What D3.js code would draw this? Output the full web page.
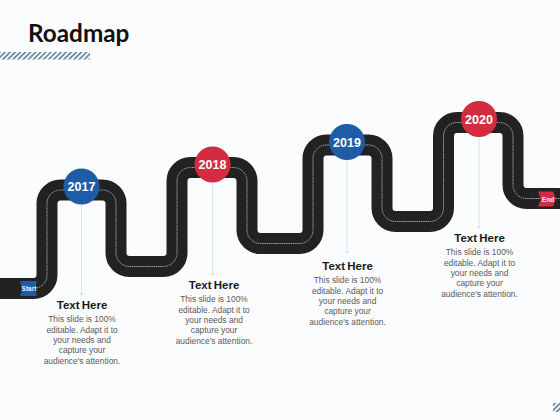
<!DOCTYPE html>
<html>
<head>
<meta charset="utf-8">
<script src="https://cdn.jsdelivr.net/npm/d3@7"></script>
<style>
html, body { margin:0; padding:0; background:#fbfcfe; overflow:hidden; }
text { font-family:"Liberation Sans", Arial, sans-serif; }
</style>
</head>
<body>
<div id="chart"></div>
<script>
var width = 560, height = 420;

// road bends
var roadX = [-5, 47, 47, 116, 116, 177, 177, 247, 247, 313, 313, 382, 382, 443.5, 443.5, 513, 513, 565];
var roadY = [288.5, 288.5, 190, 190, 266.5, 266.5, 167.5, 167.5, 243.5, 243.5, 145, 145, 221.5, 221.5, 122.5, 122.5, 198.5, 198.5];

var years = ["2017", "2018", "2019", "2020"];
var yearX = [81.5, 212.5, 347, 479];
var yearY = [186.5, 164.5, 142, 119];
var stemEnd = [294, 274, 252, 227];
var yearColors = ["#1f5ca8", "#d32b3f", "#1f5ca8", "#d32b3f"];

var textX = [82, 214, 347.5, 479.5];
var headingY = [309, 289, 270, 242];
var bodyLines = ["This slide is 100%", "editable. Adapt it to", "your needs and", "capture your", "audience's attention."];

var x = d3.scaleLinear().domain([0, 560]).range([0, width]);
var y = d3.scaleLinear().domain([0, 420]).range([0, height]);

var svg = d3.select("#chart")
    .append("svg")
    .attr("width", width)
    .attr("height", height);

svg.append("rect")
    .attr("width", width)
    .attr("height", height)
    .attr("fill", "#fbfcfe");

var defs = svg.append("defs");
var hatch = defs.append("pattern")
    .attr("id", "hatch")
    .attr("width", 3.6)
    .attr("height", 3.6)
    .attr("patternUnits", "userSpaceOnUse")
    .attr("patternTransform", "rotate(45)");
hatch.append("rect")
    .attr("width", 1.6)
    .attr("height", 3.6)
    .attr("fill", "#5f7f9c");

// title
svg.append("text")
    .attr("x", x(28))
    .attr("y", y(41.5))
    .attr("font-size", 24.3)
    .attr("font-weight", 700)
    .style("font-family", "Lato, sans-serif")
    .attr("fill", "#111")
    .text("Roadmap");

svg.append("rect")
    .attr("x", x(0))
    .attr("y", y(52))
    .attr("width", x(90))
    .attr("height", 7.5)
    .attr("fill", "url(#hatch)");

svg.append("rect")
    .attr("x", x(553))
    .attr("y", y(403))
    .attr("width", 7)
    .attr("height", 9)
    .attr("fill", "url(#hatch)");

// road with rounded bends
function roadPath(startX) {
  var bend = 13.5;
  var p = d3.path();
  p.moveTo(x(startX), y(roadY[0]));
  for (var i = 1; i < roadX.length - 1; i++) {
    p.arcTo(x(roadX[i]), y(roadY[i]), x(roadX[i + 1]), y(roadY[i + 1]), bend);
  }
  p.lineTo(x(roadX[roadX.length - 1]), y(roadY[roadY.length - 1]));
  return p.toString();
}

svg.append("path")
    .attr("d", roadPath(roadX[0]))
    .attr("fill", "none")
    .attr("stroke", "#222222")
    .attr("stroke-width", 21);

// the centre line only starts at the Start flag
svg.append("path")
    .attr("d", roadPath(30))
    .attr("fill", "none")
    .attr("stroke", "#d8d8d8")
    .attr("stroke-width", 0.7)
    .attr("stroke-dasharray", "1.5 0.7");

// start and end flags
var startFlag = svg.append("g").attr("transform", "translate(" + x(20) + "," + y(281) + ")");
startFlag.append("path")
    .attr("d", "M0,0 L17,0 L15,7.5 L17,15 L0,15 L2,7.5 Z")
    .attr("fill", "#1f5ca8");
startFlag.append("text")
    .attr("x", 9)
    .attr("y", 10)
    .attr("text-anchor", "middle")
    .attr("font-size", 6.5)
    .attr("font-weight", 700)
    .attr("fill", "#eef")
    .text("Start");

var endFlag = svg.append("g").attr("transform", "translate(" + x(538) + "," + y(191.5) + ")");
endFlag.append("path")
    .attr("d", "M0,0 L15,0 L18,7.5 L15,15 L0,15 L3,7.5 Z")
    .attr("fill", "#d32b3f");
endFlag.append("text")
    .attr("x", 10)
    .attr("y", 10)
    .attr("text-anchor", "middle")
    .attr("font-size", 6.5)
    .attr("font-weight", 700)
    .attr("fill", "#fee")
    .text("End");

// milestones
years.forEach(function(year, i) {
  var cx = x(yearX[i]), cy = y(yearY[i]);
  var tx = x(textX[i]);

  svg.append("line")
      .attr("x1", cx).attr("x2", cx)
      .attr("y1", cy).attr("y2", y(stemEnd[i]))
      .attr("stroke", "#dbe5ef")
      .attr("stroke-width", 1);

  svg.append("circle")
      .attr("cx", cx).attr("cy", y(stemEnd[i]))
      .attr("r", 1.6)
      .attr("fill", "#dbe5ef");

  svg.append("circle")
      .attr("cx", cx).attr("cy", cy)
      .attr("r", 18)
      .attr("fill", yearColors[i]);

  svg.append("text")
      .attr("x", cx).attr("y", cy + 4.5)
      .attr("text-anchor", "middle")
      .attr("font-size", 12.5)
      .attr("font-weight", 700)
      .attr("fill", "#fff")
      .text(year);

  svg.append("text")
      .attr("x", tx).attr("y", y(headingY[i]))
      .attr("text-anchor", "middle")
      .attr("font-size", 11.5)
      .attr("font-weight", 700)
      .attr("word-spacing", -1)
      .attr("fill", "#1a1a1a")
      .text("Text Here");

  bodyLines.forEach(function(line, j) {
    svg.append("text")
        .attr("x", tx).attr("y", y(headingY[i]) + 13.2 + j * 10.4)
        .attr("text-anchor", "middle")
        .attr("font-size", 8.4)
        .attr("fill", "#5a5a5a")
        .text(line);
  });
});
</script>
</body>
</html>
